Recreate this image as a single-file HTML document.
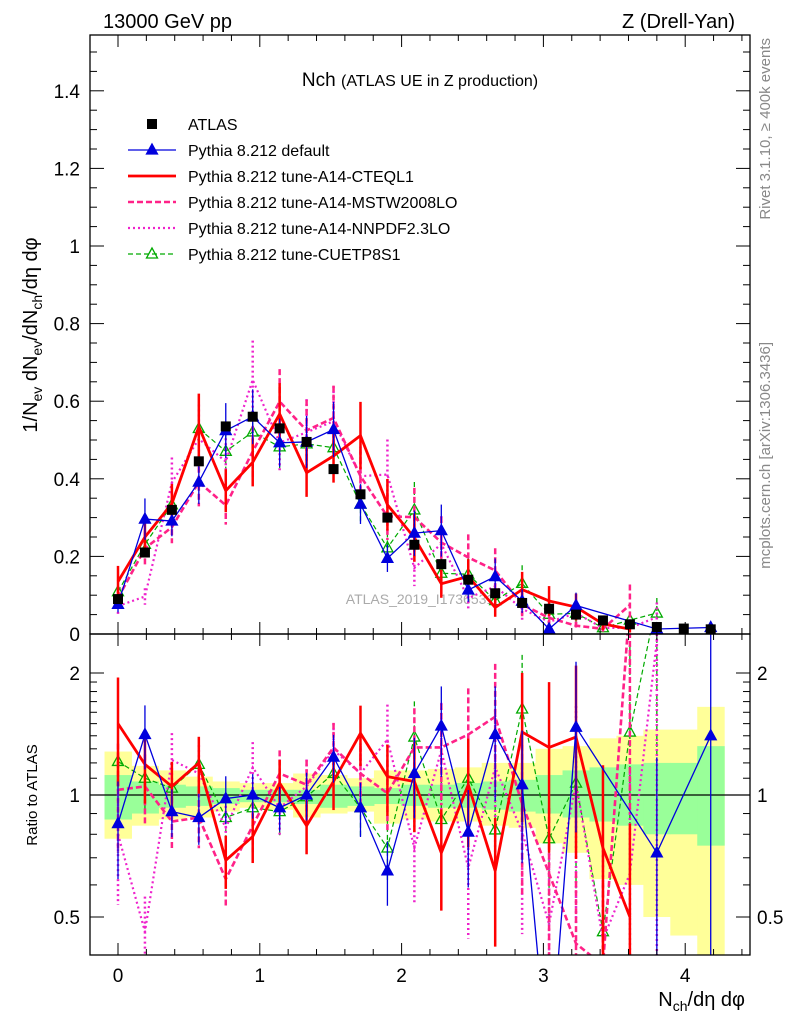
<!DOCTYPE html>
<html><head><meta charset="utf-8"><style>
html,body{margin:0;padding:0;background:#fff;width:786px;height:1024px;overflow:hidden;}
#wrap{position:relative;width:786px;height:1024px;overflow:hidden;}
svg{display:block;overflow:hidden;font-family:"Liberation Sans",sans-serif;}
</style></head><body>
<div id="wrap">
<svg id="c" width="786" height="1024" viewBox="0 0 786 1024" xmlns="http://www.w3.org/2000/svg">
<rect width="786" height="1024" fill="#fff"/>
<text x="103" y="28" font-size="20">13000 GeV pp</text>
<text x="735" y="28" font-size="20" text-anchor="end">Z (Drell-Yan)</text>
<text x="420" y="86" font-size="19" text-anchor="middle">Nch <tspan font-size="16">(ATLAS UE in Z production)</tspan></text>
<text transform="translate(770,38) rotate(-90)" font-size="15" fill="#888" text-anchor="end">Rivet 3.1.10, ≥ 400k events</text>
<text transform="translate(770,342) rotate(-90)" font-size="15" fill="#888" text-anchor="end">mcplots.cern.ch [arXiv:1306.3436]</text>
<text transform="translate(37,335) rotate(-90)" font-size="20" text-anchor="middle">1/N<tspan font-size="14" dy="5">ev</tspan><tspan dy="-5"> dN</tspan><tspan font-size="14" dy="5">ev</tspan><tspan dy="-5">/dN</tspan><tspan font-size="14" dy="5">ch</tspan><tspan dy="-5">/dη dφ</tspan></text>
<text transform="translate(37,795) rotate(-90)" font-size="15" text-anchor="middle">Ratio to ATLAS</text>
<text x="745" y="1006" font-size="20" text-anchor="end">N<tspan font-size="14" dy="5">ch</tspan><tspan dy="-5">/dη dφ</tspan></text>
<text x="420" y="604" font-size="14" fill="#aaa" text-anchor="middle">ATLAS_2019_I1736531</text>
<g id="g"></g>
</svg>
</div>
<script>
const xVals=[0,0.19,0.38,0.57,0.76,0.95,1.14,1.33,1.52,1.71,1.9,2.09,2.28,2.47,2.66,2.85,3.04,3.23,3.42,3.61,3.8,3.99,4.18];
const dataVals=[0.09,0.21,0.32,0.445,0.535,0.56,0.53,0.495,0.425,0.36,0.30,0.23,0.18,0.14,0.105,0.08,0.065,0.05,0.035,0.025,0.018,0.014,0.012];
const ratioDefault=[0.85,1.41,0.91,0.88,0.98,1.0,0.93,1.0,1.24,0.93,0.65,1.13,1.48,0.81,1.41,1.06,0.2,1.47,null,null,0.72,null,1.40];
const ratioCTEQ=[1.50,1.19,1.05,1.20,0.69,0.79,1.07,0.84,1.08,1.42,1.11,1.08,0.72,1.06,0.65,1.43,1.31,1.39,0.74,0.50,null,null,null];
const ratioMSTW=[1.03,1.05,0.86,0.88,0.62,0.84,1.13,1.06,1.31,1.13,1.01,1.31,1.31,1.41,1.56,0.95,0.64,0.43,0.38,3.0,null,null,null];
const ratioNNPDF=[0.8,0.46,1.22,1.13,0.83,1.17,0.93,1.05,1.29,1.13,1.37,0.74,1.29,0.66,1.17,0.81,0.48,1.07,0.44,0.64,2.4,null,null];
const ratioCUETP=[1.21,1.10,1.04,1.19,0.88,0.93,0.91,0.99,1.13,0.93,0.74,1.39,0.87,1.10,0.82,1.63,0.78,1.07,0.46,1.43,3.0,null,null];
const relErr=[0.3,0.2,0.15,0.16,0.15,0.14,0.14,0.15,0.15,0.17,0.2,0.25,0.28,0.3,0.35,0.4,0.45,0.5,0.6,0.7,0.8,0.9,1.0];
const greenHi=[1.12,1.08,1.06,1.05,1.04,1.03,1.03,1.03,1.06,1.05,1.04,1.06,1.06,1.07,1.08,1.09,1.12,1.15,1.17,1.19,1.2,1.2,1.32];
const greenLo=[0.87,0.9,0.93,0.94,0.95,0.96,0.96,0.95,0.93,0.94,0.95,0.94,0.93,0.93,0.92,0.91,0.9,0.88,0.86,0.84,0.8,0.8,0.75];
const yellowHi=[1.28,1.18,1.15,1.11,1.08,1.07,1.07,1.13,1.12,1.1,1.15,1.15,1.16,1.17,1.2,1.2,1.3,1.32,1.38,1.4,1.45,1.45,1.65];
const yellowLo=[0.78,0.84,0.87,0.88,0.91,0.93,0.92,0.88,0.9,0.91,0.85,0.87,0.86,0.86,0.84,0.83,0.76,0.72,0.62,0.6,0.5,0.45,0.3];
const xTicks=[0,1,2,3,4];
const yTicks=[0,0.2,0.4,0.6,0.8,1,1.2,1.4];
const rTicks=[0.5,1,2];

const L=90,R=750,T=35,M=634,B=955;
const X=v=>118+v*141.8;
const Y=v=>634-v*388;
const RY=r=>795-Math.log2(r)*122;
const NS="http://www.w3.org/2000/svg";
const g=document.getElementById('g');
function el(tag,attrs,parent){const e=document.createElementNS(NS,tag);for(const k in attrs)e.setAttribute(k,attrs[k]);(parent||g).appendChild(e);return e;}
const clipMain=el('clipPath',{id:'cm'});el('rect',{x:L,y:T,width:R-L,height:M-T},clipMain);
const clipRat=el('clipPath',{id:'cr'});el('rect',{x:L,y:M,width:R-L,height:B-M},clipRat);
const gm=el('g',{'clip-path':'url(#cm)'});


const gr=el('g',{'clip-path':'url(#cr)'});


const hw=0.095;
const clampR=r=>Math.min(3,Math.max(0.3,r));
xVals.forEach((x,i)=>{
 const y=el('rect',{x:X(x-hw),y:RY(clampR(yellowHi[i])),width:X(x+hw)-X(x-hw)+0.5,height:RY(clampR(yellowLo[i]))-RY(clampR(yellowHi[i])),fill:'#ffff99'},gr);
 
 
});
xVals.forEach((x,i)=>{
 const r=el('rect',{x:X(x-hw),y:RY(greenHi[i]),width:X(x+hw)-X(x-hw)+0.5,height:RY(greenLo[i])-RY(greenHi[i]),fill:'#99ff99'},gr);
 
 
});
const one=el('line',{x1:L,x2:R,y1:RY(1),y2:RY(1),stroke:'#000','stroke-width':1.2},gr);



const series=[
 {name:'cuetp8s1',r:ratioCUETP,c:'#00aa00',w:1.2,d:'5,3',m:'tri-open',ef:0.9},
 {name:'nnpdf',r:ratioNNPDF,c:'#ee22cc',w:2.2,d:'2,3',m:null,ef:1.1},
 {name:'mstw',r:ratioMSTW,c:'#ff2288',w:2.6,d:'6,3',m:null,ef:1.0},
 {name:'cteql1',r:ratioCTEQ,c:'#ff0000',w:2.8,d:null,m:null,ef:1.0},
 {name:'default',r:ratioDefault,c:'#0000dd',w:1.3,d:null,m:'tri',ef:0.9}
];
function marker(type,x,y,c,par,nm){
 if(!type)return;
 const p=`${x},${y-6} ${x-5.5},${y+4} ${x+5.5},${y+4}`;
 const m=el('polygon',{points:p,fill:type==='tri'?c:'#fff','fill-opacity':type==='tri'?1:0,stroke:c,'stroke-width':1.3},par);
 
 
}
const clampY=(y,lo,hi)=>Math.min(hi+20,Math.max(lo-20,y));
series.forEach(s=>{
 [[gm,(i,r)=>Y(r*dataVals[i]),T,M],[gr,(i,r)=>RY(r),M,B]].forEach(([par,fy,lo,hi],pi)=>{
  const pts=[];
  s.r.forEach((r,i)=>{ if(r==null)return; pts.push([X(xVals[i]),fy(i,r),i,r]); });
  pts.forEach(([px,py,i,r])=>{
   const e=relErr[i]*s.ef;
   let y1,y2;
   if(pi===0){y1=Y(r*dataVals[i]*(1+e));y2=Y(Math.max(0,r*dataVals[i]*(1-e)));}
   else{y1=RY(r*(1+e));y2=RY(Math.max(0.01,r*(1-e)));}
   const eb=el('line',{x1:px,x2:px,y1:clampY(y1,lo,hi),y2:clampY(y2,lo,hi),stroke:s.c,'stroke-width':s.w>2?2.5:1.3,'stroke-dasharray':s.d||'none'},par);
   
   
  });
  const pl=el('polyline',{points:pts.map(p=>p[0]+','+p[1]).join(' '),fill:'none',stroke:s.c,'stroke-width':s.w,'stroke-dasharray':s.d||'none'},par);
  
  
  pts.forEach(([px,py])=>marker(s.m,px,py,s.c,par,s.name+'-marker'));
 });
});
xVals.forEach((x,i)=>{
 const sq=el('rect',{x:X(x)-5,y:Y(dataVals[i])-5,width:10,height:10,fill:'#000'},gm);
 
 
});
[[T,M],[M,B]].forEach(([t,b],k)=>{
 const f=el('rect',{x:L,y:t,width:R-L,height:b-t,fill:'none',stroke:'#000','stroke-width':1.3});
 
 
});
for(let v=-0.2;v<=4.45;v+=0.2){
 const vv=Math.round(v*10)/10; const major=Math.abs(vv-Math.round(vv))<1e-6; const len=major?12:6; const px=X(vv);
 if(px<L||px>R)continue;
 [[T,1],[M,-1],[M,1],[B,-1]].forEach(([y0,dir])=>{
  const t=el('line',{x1:px,x2:px,y1:y0,y2:y0+dir*len,stroke:'#000','stroke-width':1});
  
  
 });
}
xTicks.forEach(v=>{
 const t=el('text',{x:X(v),y:982,'font-size':19,'text-anchor':'middle'});t.textContent=v;
 
 
});
for(let v=0;v<=1.54;v+=0.05){
 const vv=Math.round(v*100)/100; const major=Math.abs(vv*5-Math.round(vv*5))<1e-6; const len=major?14:7; const py=Y(vv);
 [[L,1],[R,-1]].forEach(([x0,dir])=>{
  const t=el('line',{x1:x0,x2:x0+dir*len,y1:py,y2:py,stroke:'#000','stroke-width':1});
  
  
 });
}
yTicks.forEach(v=>{
 const t=el('text',{x:80,y:Y(v)+7,'font-size':19,'text-anchor':'end'});t.textContent=(Math.round(v*10)/10).toString();
 
 
});
[0.5,0.6,0.7,0.8,0.9,1,1.1,1.2,1.3,1.4,1.5,1.6,1.7,1.8,1.9,2,2.5].forEach(v=>{
 const major=rTicks.includes(v); const len=major?14:7; const py=RY(v);
 if(py<M||py>B)return;
 [[L,1],[R,-1]].forEach(([x0,dir])=>{
  const t=el('line',{x1:x0,x2:x0+dir*len,y1:py,y2:py,stroke:'#000','stroke-width':1});
  
  
 });
});
rTicks.forEach(v=>{
 [[80,'end'],[757,'start']].forEach(([x,a])=>{
  const t=el('text',{x:x,y:RY(v)+7,'font-size':19,'text-anchor':a});t.textContent=v;
  
  
 });
});
const leg=[
 ['ATLAS','#000',null,'sq'],
 ['Pythia 8.212 default','#0000dd',null,'tri',1.3],
 ['Pythia 8.212 tune-A14-CTEQL1','#ff0000',null,null,2.8],
 ['Pythia 8.212 tune-A14-MSTW2008LO','#ff2288','6,3',null,2.6],
 ['Pythia 8.212 tune-A14-NNPDF2.3LO','#ee22cc','2,3',null,2.2],
 ['Pythia 8.212 tune-CUETP8S1','#00aa00','5,3','tri-open',1.2]
];
leg.forEach((l,k)=>{
 const y=124+k*26;
 const lg=el('g',{});
 
 
 if(l[3]==='sq'){el('rect',{x:147,y:y-5,width:10,height:10,fill:'#000'},lg);}
 else{el('line',{x1:128,x2:176,y1:y,y2:y,stroke:l[1],'stroke-width':l[4],'stroke-dasharray':l[2]||'none'},lg);marker(l[3],152,y,l[1],lg,'legend-marker');}
 const t=el('text',{x:188,y:y+6,'font-size':16},lg);t.textContent=l[0];
});
</script>
</body></html>
